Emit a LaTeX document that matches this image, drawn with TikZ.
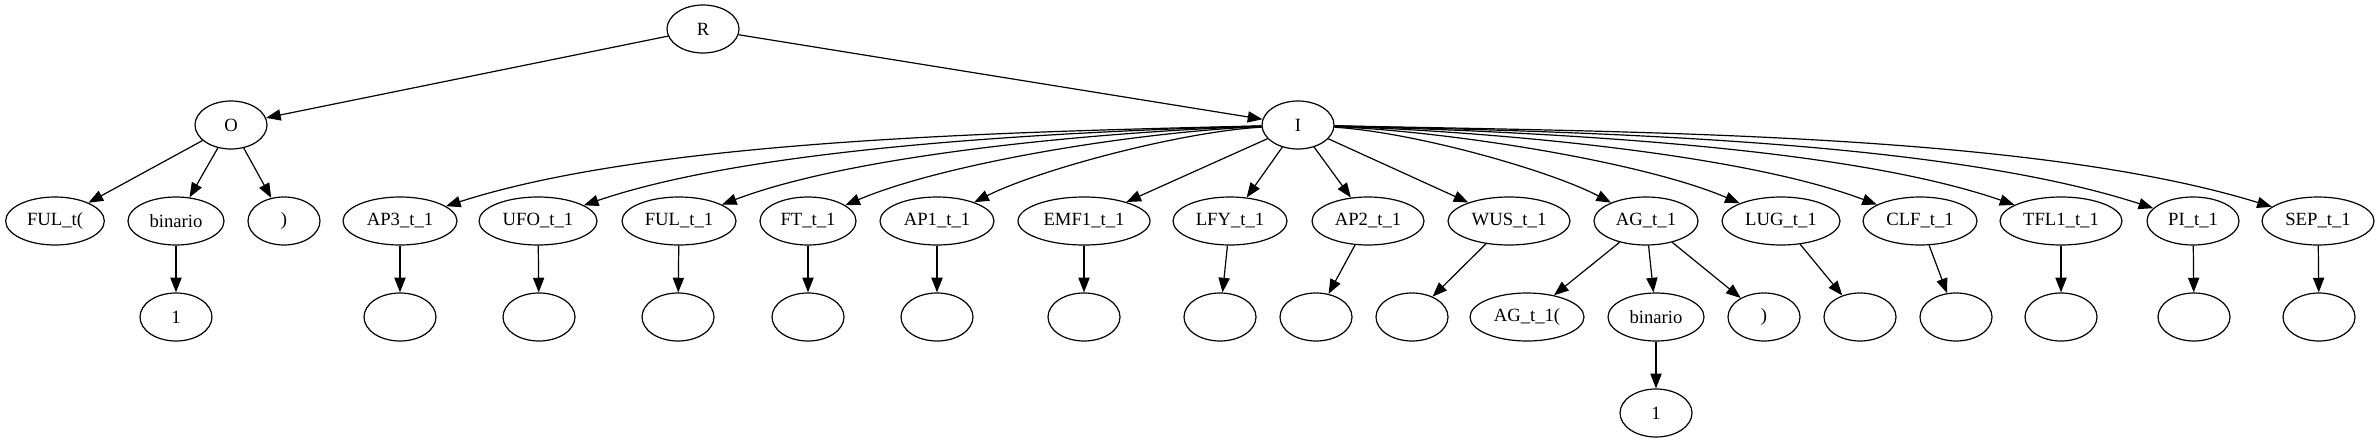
\documentclass[tikz,border=0pt]{standalone}
\usepackage{fontspec}
\setmainfont{Liberation Serif}
\usetikzlibrary{shapes.geometric,arrows.meta}
\tikzset{
  nd/.style={draw, ellipse, line width=0.9pt, minimum height=36pt, minimum width=54pt, inner sep=0pt, font=\fontsize{14pt}{16pt}\selectfont},
  edge/.style={line width=0.9pt, -{Triangle[length=11pt,width=8.4pt]}}
}
\begin{document}
\begin{tikzpicture}[x=0.75pt, y=-0.75pt]
\useasboundingbox (0,0) rectangle (2380,443);
% row 1
\node[nd] (R) at (703,29) {R};
% row 2
\node[nd] (O) at (231,125) {O};
\node[nd] (I) at (1298,125) {I};
% row 3
\node[nd, minimum width=74pt] (ofu) at (55,221) {FUL\_t(};
\node[nd, minimum width=72pt] (obin) at (176,221) {binario};
\node[nd] (ocl) at (284,221) {)};
\node[nd, minimum width=85.5pt] (ap3) at (400,221) {AP3\_t\_1};
\node[nd, minimum width=88.5pt] (ufo) at (538,221) {UFO\_t\_1};
\node[nd, minimum width=85.5pt] (ful) at (679,221) {FUL\_t\_1};
\node[nd, minimum width=72pt] (ft) at (808,221) {FT\_t\_1};
\node[nd, minimum width=85.5pt] (ap1) at (937,221) {AP1\_t\_1};
\node[nd, minimum width=99pt] (emf) at (1084,221) {EMF1\_t\_1};
\node[nd, minimum width=85.5pt] (lfy) at (1230,221) {LFY\_t\_1};
\node[nd, minimum width=84pt] (ap2) at (1368,221) {AP2\_t\_1};
\node[nd, minimum width=91.5pt] (wus) at (1509,221) {WUS\_t\_1};
\node[nd, minimum width=78pt] (ag) at (1646,221) {AG\_t\_1};
\node[nd, minimum width=88.5pt] (lug) at (1781,221) {LUG\_t\_1};
\node[nd, minimum width=85.5pt] (clf) at (1920,221) {CLF\_t\_1};
\node[nd, minimum width=91.5pt] (tfl) at (2061,221) {TFL1\_t\_1};
\node[nd, minimum width=69pt] (pi) at (2193,221) {PI\_t\_1};
\node[nd, minimum width=84pt] (sep) at (2318,221) {SEP\_t\_1};
% row 4
\node[nd] (obin1) at (176,317) {1};
\node[nd] (ap3c) at (400,317) {};
\node[nd] (ufoc) at (539,317) {};
\node[nd] (fulc) at (678,317) {};
\node[nd] (ftc) at (808,317) {};
\node[nd] (ap1c) at (937,317) {};
\node[nd] (emfc) at (1084,317) {};
\node[nd] (lfyc) at (1220,317) {};
\node[nd] (ap2c) at (1316,317) {};
\node[nd] (wusc) at (1412,317) {};
\node[nd, minimum width=85.5pt] (agop) at (1527,317) {AG\_t\_1(};
\node[nd, minimum width=72pt] (agbin) at (1656,317) {binario};
\node[nd] (agcl) at (1764,317) {)};
\node[nd] (lugc) at (1860,317) {};
\node[nd] (clfc) at (1956,317) {};
\node[nd] (tflc) at (2061,317) {};
\node[nd] (pic) at (2194,317) {};
\node[nd] (sepc) at (2319,317) {};
% row 5
\node[nd] (agbin1) at (1656,413) {1};
% edges
\draw[edge] (R) -- (O);
\draw[edge] (R) -- (I);
\draw[edge] (O) -- (ofu);
\draw[edge] (O) -- (obin);
\draw[edge] (O) -- (ocl);
\draw[edge] (obin) -- (obin1);
\draw[edge] (I) .. controls (1002,132) and (651,140) .. (ap3);
\draw[edge] (I) .. controls (1047,132) and (751,148) .. (ufo);
\draw[edge] (I) .. controls (1094,132) and (852,155) .. (ful);
\draw[edge] (I) .. controls (1136,132) and (945,163) .. (ft);
\draw[edge] (I) .. controls (1179,132) and (1038,170) .. (ap1);
\draw[edge] (I) -- (emf);
\draw[edge] (I) -- (lfy);
\draw[edge] (I) -- (ap2);
\draw[edge] (I) -- (wus);
\draw[edge] (I) .. controls (1413,132) and (1549,170) .. (ag);
\draw[edge] (I) .. controls (1457,132) and (1646,163) .. (lug);
\draw[edge] (I) .. controls (1503,132) and (1746,155) .. (clf);
\draw[edge] (I) .. controls (1550,132) and (1847,147) .. (tfl);
\draw[edge] (I) .. controls (1593,132) and (1942,140) .. (pi);
\draw[edge] (I) .. controls (1635,132) and (2032,133) .. (sep);
\draw[edge] (ap3) -- (ap3c);
\draw[edge] (ufo) -- (ufoc);
\draw[edge] (ful) -- (fulc);
\draw[edge] (ft) -- (ftc);
\draw[edge] (ap1) -- (ap1c);
\draw[edge] (emf) -- (emfc);
\draw[edge] (lfy) -- (lfyc);
\draw[edge] (ap2) -- (ap2c);
\draw[edge] (wus) -- (wusc);
\draw[edge] (ag) -- (agop);
\draw[edge] (ag) -- (agbin);
\draw[edge] (ag) -- (agcl);
\draw[edge] (agbin) -- (agbin1);
\draw[edge] (lug) -- (lugc);
\draw[edge] (clf) -- (clfc);
\draw[edge] (tfl) -- (tflc);
\draw[edge] (pi) -- (pic);
\draw[edge] (sep) -- (sepc);
\end{tikzpicture}
\end{document}
